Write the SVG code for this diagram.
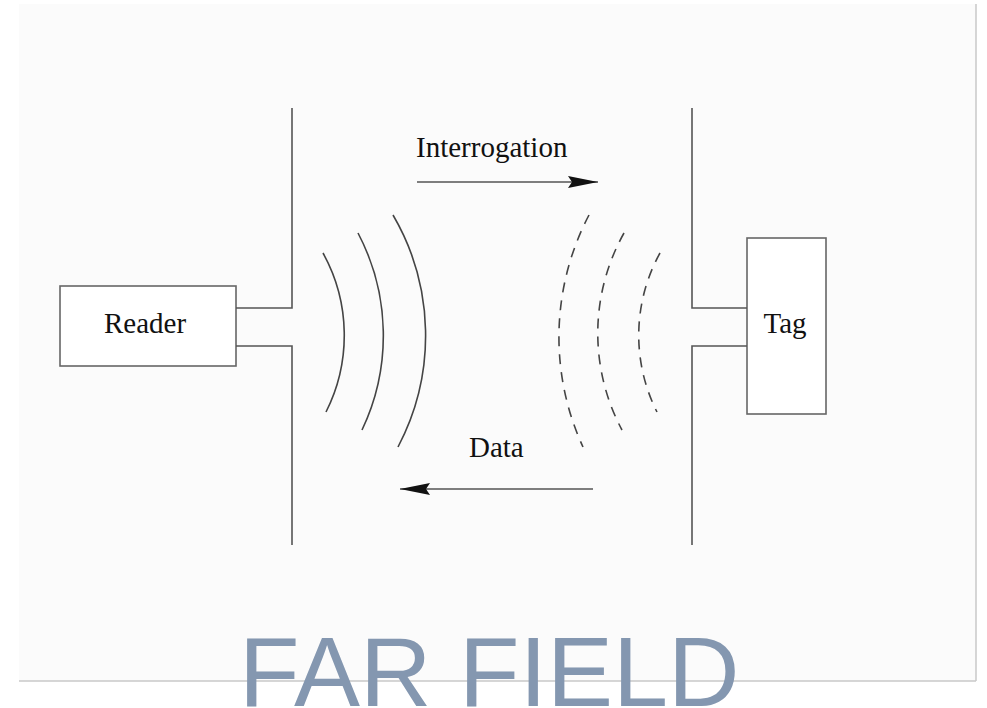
<svg xmlns="http://www.w3.org/2000/svg" width="987" height="708" viewBox="0 0 987 708">
<defs>
<style>
.ln{stroke:#555;stroke-width:1.6;fill:none}
.box{stroke:#666;stroke-width:1.6;fill:#fff}
.wave{stroke:#444;stroke-width:1.6;fill:none}
.dash{stroke-dasharray:10 8}
.lbl{font-family:"Liberation Serif","Times New Roman",serif;font-size:29px;fill:#111}
.title{font-family:"Liberation Sans",Arial,sans-serif;font-size:99px;fill:#8497b0}
</style>
<marker id="ah" viewBox="0 0 30 12" refX="30" refY="6" markerWidth="30" markerHeight="12" markerUnits="userSpaceOnUse" orient="auto">
<path d="M0 0 L30 6 L0 12 L4 6 Z" fill="#111"/>
</marker>
</defs>
<rect x="0" y="0" width="987" height="708" fill="#fff"/>
<rect x="19" y="4" width="957" height="677" fill="#fbfbfb"/>
<line x1="976" y1="4" x2="976" y2="681" stroke="#c8c8c8" stroke-width="1.5"/>
<line x1="19" y1="681" x2="976" y2="681" stroke="#c8c8c8" stroke-width="1.5"/>
<g id="reader">
<rect class="box" x="60" y="286" width="176" height="80"/>
<text class="lbl" x="145" y="333" text-anchor="middle">Reader</text>
</g>
<g id="tag">
<rect class="box" x="747" y="238" width="79" height="176"/>
<text class="lbl" x="785" y="333" text-anchor="middle">Tag</text>
</g>
<g id="connectors">
<path class="ln" d="M236 308 H292 V108"/>
<path class="ln" d="M236 346 H292 V545"/>
<path class="ln" d="M747 308 H692 V108"/>
<path class="ln" d="M747 346 H692 V545"/>
<line class="ln" x1="417" y1="182" x2="598" y2="182" marker-end="url(#ah)"/>
<line class="ln" x1="593" y1="489" x2="400" y2="489" marker-end="url(#ah)"/>
</g>
<g id="reader-waves">
<path class="wave" d="M323 253 A170 170 0 0 1 326 412"/>
<path class="wave" d="M358 233 A220 220 0 0 1 362 430"/>
<path class="wave" d="M393 215 A239 239 0 0 1 398 447"/>
</g>
<g id="tag-waves">
<path class="wave dash" d="M589 215 A263 263 0 0 0 583 447"/>
<path class="wave dash" d="M624 233 A205 205 0 0 0 622 430"/>
<path class="wave dash" d="M660 253 A170 170 0 0 0 657 412"/>
</g>
<text class="lbl" x="416" y="157">Interrogation</text>
<text class="lbl" x="469" y="457">Data</text>
<text class="title" x="239" y="706">FAR FIELD</text>
</svg>
